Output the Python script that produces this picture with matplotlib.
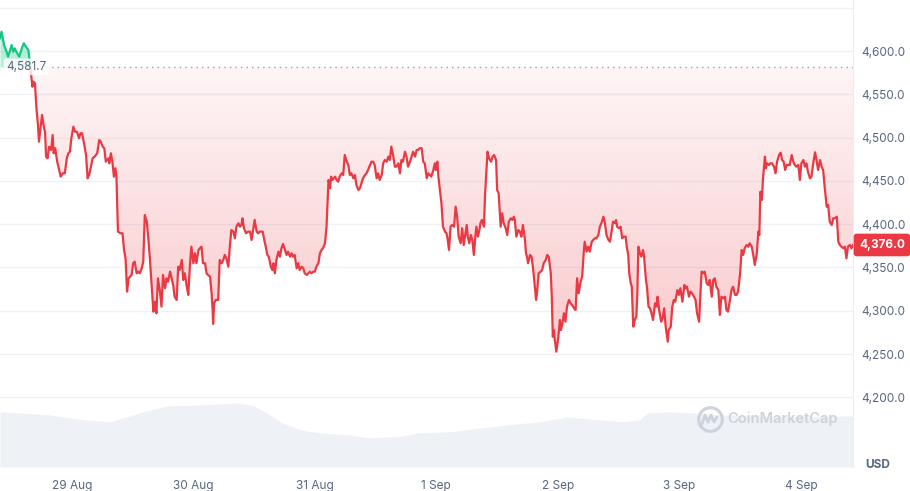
import matplotlib.pyplot as plt
import matplotlib.transforms as mtransforms
from matplotlib.colors import to_rgb
from matplotlib.lines import Line2D
from matplotlib.patches import Rectangle
from matplotlib.path import Path
import numpy as np

plt.rcParams['font.family'] = ['Inter', 'DejaVu Sans']

# hours since 28 Aug 00:00, price in USD
hours_a = [9.8, 10.1, 10.6, 11.1, 11.4, 12.1, 12.4, 12.7, 13.2, 13.6, 14.1, 14.5, 14.9, 15.4, 15.6,
           16.2, 16.4, 16.7, 17.0, 17.3, 17.5, 17.8, 18.1, 18.5, 18.7, 18.9, 19.2, 19.5, 19.9, 20.2,
           20.4, 20.7, 21.1, 21.4, 21.8, 22.2, 22.6, 23.0, 23.3, 23.6, 23.9, 24.3, 24.6, 25.0, 25.4,
           25.7, 26.0, 26.4, 26.8, 27.1, 27.4, 27.7, 28.1, 28.5, 29.0, 29.4, 29.7, 30.1, 30.4, 30.7,
           31.2, 31.4, 31.7, 32.0, 32.3, 32.6, 32.8, 33.1, 33.6, 34.0, 34.3, 34.6, 34.9, 35.2, 35.5,
           35.8, 36.1, 36.4, 36.8, 37.1, 37.4, 37.8, 38.1, 38.4, 38.8, 39.1, 39.4, 39.7, 40.1, 40.4,
           40.7, 41.0, 41.4, 41.7, 42.0, 42.4, 42.7, 43.0, 43.4, 43.7, 44.0]
price_a = [4614.7, 4622.3, 4606.9, 4599.2, 4593.4, 4606.9, 4599.2, 4603.1, 4597.4, 4593.4, 4603.1,
           4608.9, 4605.0, 4601.2, 4591.6, 4558.8, 4564.6, 4562.7, 4533.8, 4514.6, 4495.3, 4510.8,
           4526.1, 4510.8, 4506.8, 4478.0, 4476.1, 4489.5, 4485.7, 4503.0, 4481.9, 4487.7, 4472.2,
           4464.6, 4454.9, 4458.8, 4458.8, 4476.1, 4481.9, 4483.7, 4499.2, 4512.6, 4506.8, 4506.8,
           4499.2, 4505.0, 4505.0, 4493.4, 4479.9, 4453.0, 4456.8, 4464.6, 4476.1, 4478.0, 4481.9,
           4497.2, 4495.3, 4489.5, 4487.7, 4472.2, 4476.1, 4470.3, 4481.9, 4472.2, 4454.9, 4464.6,
           4454.9, 4391.4, 4389.5, 4389.5, 4370.2, 4360.6, 4322.1, 4337.5, 4339.4, 4341.4, 4354.9,
           4356.7, 4343.3, 4345.2, 4343.3, 4349.1, 4356.7, 4410.6, 4402.9, 4383.7, 4360.6, 4333.6,
           4299.0, 4310.5, 4297.1, 4337.5, 4322.1, 4304.8, 4341.4, 4326.0, 4337.5, 4333.6, 4345.2,
           4337.5, 4329.8]

hours_b = [44.3, 44.7, 45.0, 45.3, 45.7, 46.0, 46.3, 46.7, 47.0, 47.3, 47.6, 48.0, 48.3, 48.6, 49.0,
           49.3, 49.6, 49.9, 50.3, 50.6, 50.9, 51.3, 51.6, 51.8, 51.9, 52.1, 52.4, 52.9, 53.2, 53.6,
           53.9, 54.2, 54.5, 54.9, 55.2, 55.5, 55.9, 56.2, 56.5, 56.9, 57.2, 57.5, 57.7, 58.0, 58.4,
           58.8, 59.2, 59.5, 59.8, 60.1, 60.5, 60.8, 61.1, 61.7, 62.0, 62.3, 62.6, 62.9, 63.3, 63.6,
           63.8, 64.1, 64.4, 64.8, 65.1, 65.4, 65.7, 66.1, 66.4, 66.7, 67.1, 67.4, 67.7, 68.0, 68.4,
           68.7, 69.0, 69.4, 69.7, 70.0, 70.4, 70.7, 71.0, 71.3, 71.7, 72.0, 72.3, 72.7, 73.0, 73.3,
           73.6, 74.0, 74.3, 74.5, 74.7, 75.0, 75.2, 75.5, 76.0, 76.3, 76.6, 76.9]
price_b = [4316.3, 4312.5, 4350.9, 4347.1, 4358.7, 4335.6, 4343.3, 4327.8, 4318.3, 4350.9, 4374.0,
           4354.9, 4366.4, 4354.9, 4370.2, 4372.2, 4374.0, 4354.9, 4354.9, 4343.3, 4341.4, 4339.4,
           4320.2, 4300.9, 4284.8, 4308.7, 4312.5, 4312.5, 4358.7, 4354.9, 4358.7, 4364.5, 4360.6,
           4350.9, 4374.0, 4393.3, 4391.4, 4383.7, 4397.1, 4401.1, 4397.1, 4399.1, 4406.8, 4395.3,
           4389.5, 4391.4, 4391.4, 4381.8, 4393.3, 4404.9, 4391.4, 4389.5, 4391.4, 4391.4, 4381.8,
           4374.0, 4364.5, 4362.5, 4350.9, 4347.1, 4354.9, 4343.3, 4358.7, 4368.3, 4362.5, 4372.2,
           4377.2, 4370.2, 4364.5, 4368.3, 4362.5, 4366.4, 4362.5, 4364.5, 4349.1, 4354.9, 4347.1,
           4350.9, 4349.1, 4343.3, 4341.4, 4343.3, 4345.2, 4343.3, 4345.2, 4345.2, 4350.9, 4354.9,
           4366.4, 4370.2, 4372.2, 4378.0, 4397.1, 4424.1, 4451.1, 4441.5, 4454.9, 4451.1, 4454.9,
           4451.1, 4449.1, 4454.9]

hours_c = [77.3, 77.6, 77.9, 78.3, 78.6, 78.9, 79.2, 79.6, 79.9, 80.2, 80.6, 80.9, 81.2, 81.5, 81.9,
           82.2, 82.5, 82.9, 83.2, 83.5, 83.8, 84.2, 84.5, 84.8, 85.2, 85.5, 85.8, 86.2, 86.5, 86.8,
           87.1, 87.5, 87.8, 88.1, 88.5, 88.8, 89.1, 89.4, 89.8, 90.1, 90.4, 90.8, 91.1, 91.4, 91.8,
           92.1, 92.4, 92.7, 93.1, 93.4, 93.7, 94.1, 94.4, 94.7, 95.0, 95.4, 95.7, 95.9, 96.2, 96.4,
           96.7, 97.0, 97.3, 97.7, 98.0, 98.2, 98.5, 98.8, 99.1, 99.5, 99.8, 100.1, 100.4, 100.8,
           101.1, 101.4, 101.7, 102.0, 102.2, 102.5, 102.8, 103.1, 103.4, 103.7, 103.9, 104.2,
           104.5, 104.7, 105.0, 105.4, 105.6, 105.9, 106.1, 106.4, 106.8, 107.1, 107.4, 107.8,
           108.0, 108.3, 108.7, 109.0, 109.3, 109.7, 110.0, 110.3, 110.7, 111.0, 111.3]
price_c = [4458.8, 4456.8, 4479.9, 4472.2, 4468.4, 4456.8, 4458.8, 4453.0, 4456.8, 4445.3,
           4439.5, 4441.5, 4447.2, 4453.0, 4456.8, 4458.8, 4462.6, 4468.4, 4472.2, 4472.2,
           4468.4, 4453.0, 4458.8, 4451.1, 4456.8, 4470.3, 4474.1, 4472.2, 4478.0, 4474.1,
           4489.5, 4478.0, 4466.4, 4466.4, 4470.3, 4458.8, 4474.1, 4472.2, 4483.7, 4478.0,
           4466.4, 4472.2, 4478.0, 4483.7, 4478.0, 4485.7, 4485.7, 4487.7, 4487.7, 4472.2,
           4470.3, 4453.0, 4458.8, 4456.8, 4454.9, 4462.6, 4470.3, 4462.6, 4472.2, 4454.9,
           4439.5, 4424.1, 4397.1, 4391.4, 4389.5, 4383.7, 4370.2, 4397.1, 4399.1, 4397.1,
           4420.2, 4408.7, 4385.6, 4378.0, 4395.3, 4376.0, 4387.5, 4399.1, 4385.6, 4378.0,
           4387.5, 4381.8, 4364.5, 4385.6, 4397.1, 4385.6, 4393.3, 4401.1, 4404.9, 4397.1,
           4431.8, 4462.6, 4483.7, 4476.1, 4472.2, 4478.0, 4479.9, 4474.1, 4439.5, 4435.7,
           4397.1, 4412.6, 4401.1, 4395.3, 4387.5, 4402.9, 4406.8, 4404.9, 4408.7]

hours_d = [111.5, 111.8, 112.2, 112.5, 112.8, 113.1, 113.5, 113.7, 113.9, 114.1,
           114.5, 114.8, 115.1, 115.5, 115.7, 115.9, 116.2, 116.6, 116.9, 117.2,
           117.6, 117.9, 118.2, 118.6, 118.8, 119.0, 119.2, 119.4, 119.7, 120.1,
           120.4, 120.6, 120.9, 121.2, 121.5, 121.8, 122.2, 122.5, 122.8, 123.2,
           123.5, 123.8, 124.1, 124.5, 124.8, 125.1, 125.3, 125.7, 126.0, 126.3,
           126.7, 127.0, 127.3, 127.6, 128.0, 128.3, 128.6, 129.0, 129.3, 129.6,
           130.0, 130.3, 130.6, 130.9, 131.3, 131.5, 131.7, 132.1, 132.4, 132.7,
           133.0, 133.4, 133.6, 133.9, 134.1, 134.4, 134.6, 134.9, 135.2, 135.5,
           135.7, 135.9, 136.2, 136.5, 136.8, 137.0, 137.4, 137.6, 137.9, 138.2,
           138.5, 138.8, 139.2, 139.5, 139.7, 140.0, 140.4, 140.7, 141.0, 141.3,
           141.7, 141.9, 142.3, 142.6, 142.9, 143.2, 143.6, 143.9, 144.2, 144.6]
price_d = [4404.9, 4385.6, 4393.3, 4391.4, 4385.6, 4399.1, 4381.8, 4366.4, 4362.5, 4354.9,
           4364.5, 4362.5, 4349.1, 4324.0, 4312.5, 4322.1, 4343.3, 4345.2, 4347.1, 4354.9,
           4358.7, 4364.5, 4362.5, 4343.3, 4316.3, 4270.1, 4277.8, 4266.3, 4252.8, 4270.1,
           4289.4, 4277.8, 4285.6, 4297.1, 4287.4, 4304.8, 4312.5, 4308.7, 4306.7, 4302.9,
           4300.9, 4337.5, 4320.2, 4333.6, 4339.4, 4366.4, 4379.8, 4368.3, 4374.0, 4368.3,
           4379.8, 4381.8, 4383.7, 4383.7, 4387.5, 4397.1, 4401.1, 4408.7, 4401.1, 4387.5,
           4381.8, 4379.8, 4391.4, 4402.9, 4401.1, 4404.9, 4397.1, 4395.3, 4397.1, 4383.7,
           4385.6, 4385.6, 4374.0, 4364.5, 4343.3, 4331.8, 4327.8, 4281.7, 4289.4, 4293.2,
           4320.2, 4374.0, 4366.4, 4362.5, 4370.2, 4364.5, 4335.6, 4327.8, 4304.8, 4302.9,
           4297.1, 4289.4, 4308.7, 4304.8, 4316.3, 4300.9, 4287.4, 4291.4, 4302.9, 4281.7,
           4264.3, 4277.8, 4281.7, 4304.8, 4312.5, 4310.5, 4324.0, 4318.3, 4326.0, 4310.5]

hours_e = [145.0, 145.3, 145.5, 145.9, 146.2, 146.5, 146.9, 147.2, 147.5, 147.9,
           148.2, 148.4, 148.7, 149.0, 149.4, 149.7, 150.0, 150.4, 150.7, 151.0,
           151.3, 151.7, 152.0, 152.3, 152.7, 153.0, 153.3, 153.6, 154.0, 154.3,
           154.6, 155.0, 155.3, 155.6, 156.0, 156.3, 156.6, 156.9, 157.3, 157.6,
           157.9, 158.3, 158.6, 158.9, 159.3, 159.6, 159.8, 160.0, 160.3, 160.5,
           160.9, 161.1, 161.3, 161.7, 162.0, 162.3, 162.7, 163.0, 163.3, 163.7,
           164.0, 164.3, 164.6, 164.9, 165.2, 165.5, 165.8, 166.2, 166.5, 166.8,
           167.1, 167.5, 167.8, 168.1, 168.5, 168.8, 169.1, 169.4, 169.8, 170.1,
           170.4, 170.8, 171.1, 171.4, 171.8, 172.1, 172.4, 172.7, 173.1, 173.4,
           173.7, 174.1, 174.4, 174.7, 175.1, 175.4, 175.7, 176.0, 176.4, 176.7,
           177.0, 177.3, 177.7, 178.0, 178.3]
price_e = [4329.8, 4326.0, 4327.8, 4316.3, 4322.1, 4320.2, 4316.3, 4312.5, 4297.1, 4287.4,
           4324.0, 4345.2, 4343.3, 4345.2, 4331.8, 4329.8, 4335.6, 4316.3, 4335.6, 4337.5,
           4327.8, 4324.0, 4295.2, 4316.3, 4314.4, 4316.3, 4300.9, 4299.0, 4312.5, 4324.0,
           4327.8, 4318.3, 4318.3, 4322.1, 4343.3, 4370.2, 4364.5, 4372.2, 4376.0, 4374.0,
           4377.9, 4374.0, 4364.5, 4352.9, 4366.4, 4391.4, 4387.5, 4437.5, 4428.0, 4451.1,
           4478.0, 4464.6, 4470.3, 4468.4, 4470.3, 4470.3, 4466.4, 4458.8, 4472.2, 4479.9,
           4482.6, 4474.1, 4472.2, 4462.6, 4468.4, 4468.4, 4468.4, 4479.9, 4472.2, 4468.4,
           4466.4, 4468.4, 4451.1, 4470.3, 4474.1, 4466.4, 4470.3, 4460.6, 4453.0, 4454.9,
           4468.4, 4483.0, 4474.1, 4462.6, 4474.1, 4466.4, 4462.6, 4443.3, 4420.2, 4422.2,
           4402.9, 4399.1, 4406.8, 4406.8, 4408.7, 4379.8, 4376.0, 4374.0, 4372.2, 4374.0,
           4360.6, 4374.0, 4376.0, 4372.2, 4376.0]

# 24h volume (relative, billions)
vol_hours = [9.8, 19.7, 26.2, 31.5, 37.4, 42.8, 49.3, 56.6, 59.8, 62.5, 65.7, 69.0, 73.0, 78.9,
             82.3, 88.8, 92.1, 98.7, 103.2, 109.9, 116.4, 121.8, 126.3, 132.8, 136.2, 137.6,
             141.5, 146.7, 152.6, 162.5, 172.3, 178.3]
volume = [13.8, 13.0, 11.8, 11.3, 13.5, 15.3, 15.5, 16.0, 15.3, 13.5, 11.0, 9.3, 8.5, 8.0,
          7.3, 7.6, 8.5, 8.8, 9.5, 10.5, 11.3, 12.5, 12.0, 11.3, 11.8, 13.5, 13.8, 13.5, 13.0,
          12.6, 12.6, 12.8]

baseline = 4581.7
last_price = 4376.0
price_ticks = [4200, 4250, 4300, 4350, 4400, 4450, 4500, 4550, 4600]
grid_levels = price_ticks + [4650]
day_ticks = [24, 48, 72, 96, 120, 144, 168]
day_labels = ['29 Aug', '30 Aug', '31 Aug', '1 Sep', '2 Sep', '3 Sep', '4 Sep']

hours = np.array(hours_a + hours_b + hours_c + hours_d + hours_e)
price = np.array(price_a + price_b + price_c + price_d + price_e)

RED = '#ea3943'
GREEN = '#16c784'
GREY = '#58667e'
GRID = '#eff2f5'

xmin, xmax = 9.8, 178.3
ymin, ymax = 4119.6, 4658.9

fig = plt.figure(figsize=(9.1, 4.91), dpi=100)
fig.patch.set_facecolor('white')
rect = [0, 24 / 491, 853 / 910, 467 / 491]

# volume in the background
vax = fig.add_axes(rect)
vax.fill_between(vol_hours, volume, 0, color='#eef1f5', lw=0)
vax.set_xlim(xmin, xmax)
vax.set_ylim(0, 116.75)
vax.axis('off')

ax = fig.add_axes(rect)
ax.patch.set_visible(False)

for lvl in grid_levels:
    ax.axhline(lvl, color=GRID, lw=1, zorder=0)

# red gradient under the baseline
poly = ax.fill_between(hours, price, baseline, where=price <= baseline, interpolate=True,
                       facecolor='none', edgecolor='none')
clip = Path.make_compound_path(*poly.get_paths())
img = np.zeros((256, 1, 4))
img[:, 0, :3] = to_rgb(RED)
img[:, 0, 3] = np.linspace(0.05, 0.36, 256)
im = ax.imshow(img, aspect='auto', extent=[xmin, xmax, ymin, baseline], origin='upper', zorder=1)
im.set_clip_path(clip, ax.transData)

# green area above the baseline
ax.fill_between(hours, price, baseline, where=price >= baseline, interpolate=True,
                color=GREEN, alpha=0.3, lw=0, zorder=1)

red_line, = ax.plot(hours, price, color=RED, lw=1.6, zorder=3, solid_joinstyle='round')
red_line.set_clip_path(Rectangle((xmin, ymin), xmax - xmin, baseline - ymin, transform=ax.transData))
green_line, = ax.plot(hours, price, color=GREEN, lw=1.6, zorder=3, solid_joinstyle='round')
green_line.set_clip_path(Rectangle((xmin, baseline), xmax - xmin, ymax - baseline, transform=ax.transData))

ax.axhline(baseline, xmin=46 / 853, xmax=1, color='#9aa4b5', lw=1, ls=(0, (1, 3)), zorder=2)

blend = mtransforms.blended_transform_factory(ax.transAxes, ax.transData)
ax.text(6 / 853, baseline, f'{baseline:,.1f}', transform=blend, ha='left', va='center',
        fontsize=8.5, color=GREY, zorder=5,
        bbox=dict(boxstyle='round,pad=0.2', fc='white', ec='none', alpha=0.8))
ax.text(1 + 6 / 853, last_price, f'{last_price:,.1f}', transform=blend, ha='left', va='center',
        fontsize=8.5, color='white', fontweight='bold', zorder=6, clip_on=False,
        bbox=dict(boxstyle='round,pad=0.45,rounding_size=0.25', fc=RED, ec='none'))

ax.set_xlim(xmin, xmax)
ax.set_ylim(ymin, ymax)
ax.yaxis.tick_right()
ax.set_yticks(price_ticks)
ax.set_yticklabels([f'{v:,.1f}' for v in price_ticks])
ax.set_xticks(day_ticks)
ax.set_xticklabels(day_labels)
ax.tick_params(axis='both', length=0, labelsize=8.5, labelcolor=GREY)
ax.tick_params(axis='y', pad=6)
ax.tick_params(axis='x', pad=9)
for side in ['top', 'left', 'bottom']:
    ax.spines[side].set_visible(False)
ax.spines['right'].set_color('#eaedf1')

fig.text(878 / 910, 1 - 465 / 491, 'USD', ha='center', va='center', fontsize=8.5,
         fontweight='bold', color=GREY)

# watermark
fig.text(727 / 910, 1 - 419 / 491, 'CoinMarketCap', ha='left', va='center', fontsize=10.5,
         fontweight='semibold', color='#cdd3dc')
fig.add_artist(Line2D([710 / 910], [1 - 419 / 491], marker='o', markersize=17, mfc='none',
                      mec='#cdd3dc', mew=2.2, transform=fig.transFigure))
wx = np.array([702, 705, 708, 711, 714, 717]) / 910
wy = 1 - np.array([424, 415, 422, 415, 422, 417]) / 491
fig.add_artist(Line2D(wx, wy, color='#cdd3dc', lw=2, transform=fig.transFigure,
                      solid_joinstyle='round', solid_capstyle='round'))

fig.savefig('out.png', dpi=100)
